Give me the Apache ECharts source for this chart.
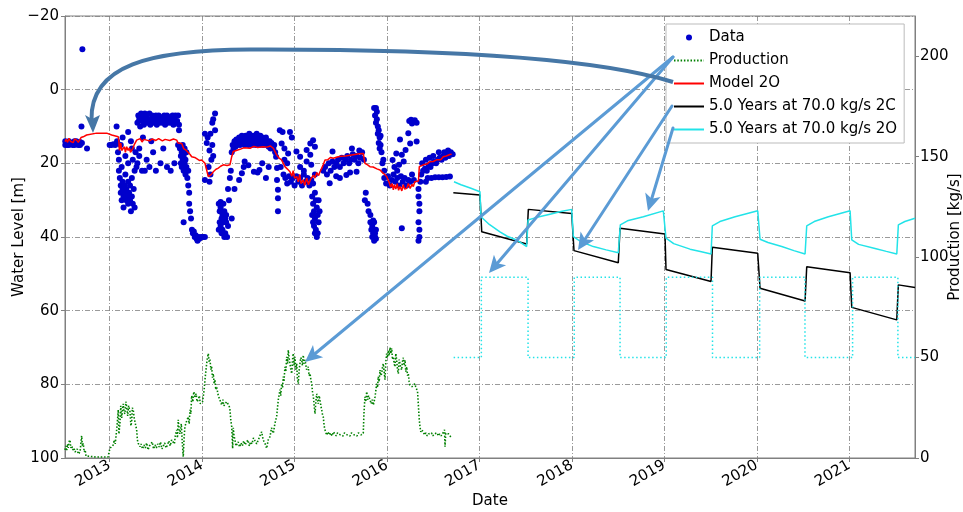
<!DOCTYPE html>
<html><head><meta charset="utf-8">
<script src="https://cdn.jsdelivr.net/npm/echarts@6/dist/echarts.min.js"></script>
<style>html,body{margin:0;padding:0;background:#fff}#c{width:963px;height:512px}</style>
</head><body><div id="c"></div>
<script>
// ---------- DATA (decimal year, value) ----------
const xTickYears = [2013, 2014, 2015, 2016, 2017, 2018, 2019, 2020, 2021];

// Observed water level [m] (blue dots)
const dataLevels = [
 [2012.52,15],[2012.54,15],[2012.56,15],[2012.58,14.5],[2012.60,15],[2012.62,15],[2012.64,14],[2012.66,15],[2012.68,15],[2012.70,14.5],
 [2012.52,14],[2012.56,14],[2012.62,14],[2012.68,14.2],[2012.705,-11],[2012.695,10],[2012.755,16],
 [2013.00,15],[2013.02,15],[2013.04,14.8],[2013.06,15],[2013.08,14],[2013.075,10],
 [2013.09,17],[2013.1,19],[2013.1,22],[2013.11,24],[2013.12,26],[2013.12,28],[2013.13,21],[2013.13,30],[2013.14,27],[2013.14,25],
 [2013.15,29],[2013.15,32],[2013.16,26],[2013.17,28],[2013.17,23],[2013.18,30],[2013.18,27],[2013.19,29],[2013.2,31],[2013.2,25],
 [2013.21,28],[2013.22,30],[2013.22,26],[2013.23,33],[2013.24,29],[2013.24,24],[2013.25,31],[2013.26,27],[2013.27,32],[2013.27,22],
 [2013.12,15],[2013.14,13],[2013.17,18],[2013.2,20],[2013.23,14],[2013.25,19],[2013.28,17],[2013.29,21],[2013.3,20],[2013.32,18],
 [2013.35,22],[2013.2,11.5],[2013.24,16],
 [2013.3,9],[2013.31,7],[2013.32,8],[2013.33,10],[2013.34,6.5],[2013.35,8.5],[2013.36,7.5],[2013.37,9.5],[2013.38,6.5],[2013.39,8],
 [2013.40,7],[2013.41,9],[2013.42,8],[2013.43,6.5],[2013.44,9.5],[2013.45,8],[2013.46,7],[2013.47,9],[2013.48,7.5],[2013.49,8.5],
 [2013.5,7],[2013.51,9.5],[2013.52,8],[2013.53,7],[2013.54,9],[2013.55,8],[2013.56,7.5],[2013.57,9],[2013.58,8],[2013.59,7],
 [2013.6,9.5],[2013.61,8],[2013.62,7],[2013.63,9],[2013.64,8],[2013.65,7.5],[2013.66,9],[2013.67,8],[2013.68,7],[2013.69,9.5],
 [2013.7,8],[2013.71,7],[2013.72,9],[2013.73,8.5],[2013.74,7],[2013.75,9.5],[2013.75,11],
 [2013.32,16],[2013.36,13],[2013.4,19],[2013.43,21],[2013.47,17],[2013.5,22],[2013.55,20],[2013.58,16],[2013.62,21],[2013.66,22],
 [2013.7,20],[2013.74,15],[2013.38,22],[2013.45,14],
 [2013.76,16],[2013.77,18],[2013.77,20],[2013.78,17],[2013.78,21],[2013.79,19],[2013.79,15],[2013.8,22],[2013.8,18],[2013.81,20],
 [2013.81,16],[2013.82,23],[2013.82,19],[2013.83,21],[2013.83,17],[2013.84,24],[2013.85,22],[2013.85,26],[2013.86,28],[2013.86,31],
 [2013.87,33],[2013.88,35],[2013.80,36],[2013.89,38],[2013.9,39],
 [2013.91,38.5],[2013.92,40],[2013.93,39.5],[2013.94,40.5],[2013.95,41],[2013.96,40],[2013.97,40.5],[2013.99,40],[2014.01,40],[2014.03,40],
 [2014.03,12],[2014.05,14.5],[2014.06,13],[2014.08,16.5],[2014.1,19],[2014.07,21],[2014.09,23],[2014.08,25],[2014.03,24.5],[2014.12,8],
 [2014.14,6.5],[2014.11,9],[2014.14,11],[2014.09,12],[2014.12,18],[2014.11,15],
 [2014.18,31],[2014.19,33],[2014.2,32],[2014.21,35],[2014.22,34],[2014.2,37],[2014.19,36],[2014.23,31],[2014.22,38],[2014.24,40],
 [2014.25,39],[2014.26,36],[2014.24,33],[2014.23,36],[2014.21,39],[2014.18,38],[2014.27,40],[2014.26,34],[2014.2,30.5],[2014.25,35],
 [2014.28,37],[2014.28,27],[2014.3,24],[2014.29,30],[2014.32,35],[2014.31,22],
 [2014.32,17],[2014.33,15],[2014.34,16],[2014.35,14],[2014.36,15.5],[2014.37,13.5],[2014.38,15],[2014.39,14],[2014.4,13],[2014.41,15],
 [2014.42,14],[2014.43,12.5],[2014.44,14.5],[2014.45,13],[2014.46,15],[2014.47,12.5],[2014.48,14],[2014.49,13],[2014.5,15],[2014.51,12],
 [2014.52,14],[2014.53,13],[2014.54,15],[2014.55,12.5],[2014.56,14],[2014.57,13],[2014.58,15],[2014.59,12],[2014.6,14],[2014.61,13],
 [2014.62,15],[2014.63,12.5],[2014.64,14],[2014.65,13],[2014.66,15],[2014.67,13.5],[2014.68,14.5],[2014.69,13],[2014.7,15],[2014.71,14],
 [2014.72,15.5],[2014.73,14],[2014.74,16],[2014.75,14.5],[2014.76,15],[2014.77,16],[2014.78,15],[2014.79,17],
 [2014.43,22.7],[2014.56,22.3],[2014.62,21.8],[2014.69,24],[2014.46,19.5],[2014.4,24.5],[2014.45,21],[2014.5,20.5],[2014.6,22.5],[2014.65,20],
 [2014.72,21],[2014.35,27],
 [2014.8,18.2],[2014.81,21.3],[2014.81,24.5],[2014.82,27.2],[2014.82,29.5],[2014.82,33],
 [2014.84,11],[2014.87,11.5],[2014.95,11.5],[2014.97,13],[2014.86,14.6],[2014.89,16],[2014.93,17.3],[2014.89,19],[2014.85,21],[2014.92,20],
 [2014.88,23],[2014.9,24],[2014.92,25.5],[2014.94,23.5],[2014.96,25],[2014.98,24],[2015.0,26],[2015.02,23.5],[2015.04,25],[2015.06,24],
 [2015.08,26],[2015.1,23],[2015.12,25],[2015.14,24],[2015.16,26],[2015.18,24.5],[2015.2,25.5],[2015.22,23],
 [2015.02,16.8],[2015.06,18.2],[2015.13,16.4],[2015.17,14.6],[2015.2,13.7],[2015.17,17.7],[2015.13,19.5],[2015.18,20.4],[2015.06,21],[2015.22,15.5],
 [2015.1,22],
 [2015.19,29],[2015.2,31],[2015.21,33],[2015.22,35],[2015.2,36],[2015.23,38],[2015.24,40],[2015.22,39],[2015.25,34],[2015.24,32],
 [2015.21,37],[2015.23,30],[2015.26,36],[2015.25,39],[2015.27,33],[2015.22,28],[2015.19,34],[2015.26,30],
 [2015.31,22],[2015.33,21],[2015.35,23],[2015.37,20],[2015.39,22],[2015.41,19.5],[2015.43,21],[2015.45,20],[2015.47,19],[2015.49,21],
 [2015.51,18.5],[2015.53,20],[2015.55,19],[2015.57,18],[2015.59,20],[2015.61,19],[2015.63,17.5],[2015.65,19],[2015.67,18],[2015.69,20],
 [2015.71,18.5],[2015.73,17],[2015.75,19],
 [2015.38,25.4],[2015.49,24],[2015.56,23.2],[2015.67,22.3],[2015.45,23.5],[2015.6,22.5],[2015.41,16.8],[2015.62,16],[2015.7,16.5],
 [2015.76,30],[2015.77,28],[2015.79,31],[2015.8,33],[2015.82,36],[2015.83,38],[2015.84,40],[2015.85,39],[2015.86,41],[2015.87,40],
 [2015.88,38],[2015.84,37],[2015.86,36],[2015.88,40.5],[2015.82,34],[2015.85,35.5],[2015.87,39],
 [2015.86,5],[2015.88,5],[2015.87,7],[2015.88,9],[2015.89,8],[2015.9,10],[2015.9,12],[2015.91,11],[2015.92,13],[2015.91,14.5],
 [2015.92,16],[2015.93,15],[2015.94,17],[2015.93,12.5],[2015.89,6],[2015.96,19],[2015.97,22],[2015.95,20],
 [2015.97,24],[2015.99,25.5],[2016.01,23.5],[2016.03,26],[2016.05,24.5],[2016.07,23],[2016.09,25],[2016.11,24],[2016.13,26],[2016.15,23.5],
 [2016.17,25],[2016.19,24],[2016.21,26],[2016.23,24.5],[2016.25,25],[2016.27,23],[2016.29,24.5],
 [2016.1,17.3],[2016.13,20.4],[2016.16,17.7],[2016.2,16.4],[2016.25,14.6],[2016.23,11.8],[2016.32,14.1],[2016.06,19.1],[2016.18,19.5],[2016.08,21],
 [2016.14,13.5],[2016.11,22],[2016.16,37.6],
 [2016.24,8.5],[2016.26,8.2],[2016.28,8.6],[2016.3,8.3],[2016.32,9],[2016.27,9.2],
 [2016.34,27],[2016.34,29],[2016.35,31],[2016.35,33],[2016.34,36],[2016.35,38],[2016.35,40],[2016.34,41],[2016.36,25],
 [2016.37,23],[2016.39,22],[2016.41,21.5],[2016.43,22],[2016.45,20.5],[2016.47,21],[2016.49,20],[2016.51,19.5],[2016.53,20],[2016.55,19],
 [2016.57,18.5],[2016.59,19],[2016.61,18],[2016.63,18.5],[2016.65,17.5],[2016.67,18],[2016.69,17],[2016.71,17.5],[2016.38,20],[2016.42,19],
 [2016.46,18.5],[2016.5,18],[2016.56,17],[2016.62,17],[2016.66,16.5],
 [2016.44,24],[2016.48,24],[2016.52,23.8],[2016.56,23.8],[2016.6,23.8],[2016.64,23.7],[2016.68,23.6],[2016.42,25]
];

// Historical production [kg/s] (green dotted, right axis)
const productionHist = [
 [2012.517,4],[2012.525,6],[2012.535,3.5],[2012.545,7],[2012.552,5],[2012.56,8],[2012.571,9],[2012.58,5],[2012.592,6],[2012.6,4],
 [2012.614,5],[2012.625,3],[2012.643,3],[2012.65,4.5],[2012.66,2],[2012.68,3],[2012.69,8],[2012.697,11],[2012.705,6],[2012.714,7.3],
 [2012.725,3],[2012.735,4],[2012.744,1],[2012.765,0.5],[2012.85,0.5],[2012.95,0.5],[2012.982,0.5],[2013.003,4.8],[2013.02,5.5],[2013.039,6.5],
 [2013.05,9],[2013.06,7],[2013.076,14],[2013.085,19],[2013.093,24],[2013.1,12],[2013.111,17],[2013.12,26],[2013.13,20],[2013.147,27],
 [2013.155,23],[2013.165,22],[2013.175,28],[2013.184,25.5],[2013.195,21],[2013.205,26],[2013.22,23],[2013.23,16],[2013.238,18],[2013.245,25],
 [2013.255,24],[2013.265,20],[2013.274,20],[2013.283,16],[2013.292,14],[2013.3,9],[2013.309,7.3],[2013.328,5.6],
 [2013.34,7],[2013.355,4.5],[2013.37,6.5],[2013.385,5],[2013.4,7.5],[2013.415,4],[2013.43,6],[2013.445,5.5],[2013.46,8],[2013.475,4.5],
 [2013.49,6.5],[2013.505,5],[2013.52,7],[2013.535,5.5],[2013.55,8],[2013.565,4.5],[2013.58,6],[2013.595,7.5],[2013.61,5],[2013.625,6.5],
 [2013.64,8.5],[2013.655,6],[2013.67,9],[2013.688,9],[2013.7,7],[2013.71,11],
 [2013.725,14],[2013.733,10],[2013.742,19],[2013.75,15],[2013.76,12],[2013.775,17],[2013.785,8],[2013.796,0.6],[2013.805,10],[2013.814,15.6],
 [2013.83,18],[2013.85,20.5],[2013.86,17],[2013.869,24],[2013.878,22],[2013.887,31],[2013.9,28],[2013.91,33],[2013.923,30.5],[2013.935,32],
 [2013.945,28],[2013.958,29],[2013.97,31],[2013.98,27],[2013.995,27],[2014.005,28],[2014.012,30.5],[2014.022,34],[2014.031,39],[2014.04,43],
 [2014.049,47],[2014.058,50],[2014.067,52],[2014.075,48],[2014.085,49],[2014.095,44],[2014.103,45.4],[2014.112,40],[2014.121,42],[2014.13,37],
 [2014.139,39],[2014.148,34],[2014.157,35.5],[2014.175,31],[2014.193,30.5],[2014.2,28],[2014.211,26.4],[2014.225,29],[2014.235,26],[2014.247,25.5],
 [2014.265,28],[2014.283,27.2],[2014.292,26],[2014.301,24],[2014.31,19],[2014.32,15.6],[2014.33,4.8],[2014.337,15],[2014.345,11],[2014.355,9],
 [2014.366,6],[2014.377,6.5],
 [2014.39,8],[2014.405,5.5],[2014.42,7.5],[2014.435,6],[2014.45,8.5],[2014.465,6.5],[2014.48,7],[2014.495,9],[2014.51,6],[2014.525,8],
 [2014.54,7],[2014.555,10],[2014.572,10.6],[2014.59,7],[2014.607,7.6],[2014.625,11],[2014.644,13],[2014.66,9],[2014.68,7.3],[2014.698,4.8],
 [2014.715,9],[2014.734,10.6],[2014.75,15],[2014.77,12.3],
 [2014.788,17.3],[2014.806,20.6],[2014.815,25],[2014.824,29],[2014.842,34],[2014.85,31],[2014.86,37],[2014.87,35],[2014.878,40.5],[2014.885,38],
 [2014.896,45.4],[2014.905,43],[2014.915,50.4],[2014.925,47],[2014.932,53.7],[2014.94,50],[2014.95,47],[2014.96,44],[2014.969,42],[2014.978,49],
 [2014.986,52],[2014.995,46],[2015.004,50.4],[2015.013,44],[2015.023,47],[2015.03,40],[2015.04,37],[2015.05,44],[2015.058,47],[2015.067,50],
 [2015.077,48.8],[2015.085,46],[2015.094,51.2],[2015.103,47],[2015.113,48.8],[2015.13,44],[2015.148,45.4],[2015.157,41],[2015.167,42],[2015.176,39],
 [2015.185,37],[2015.194,33],[2015.203,30.5],[2015.212,26],[2015.221,22],[2015.23,28],[2015.239,32],[2015.248,29],[2015.256,27],[2015.265,31],
 [2015.275,29],[2015.284,26],[2015.293,24],[2015.3,22],[2015.31,20.6],[2015.32,16],[2015.329,14],[2015.347,11.4],
 [2015.36,13],[2015.375,11.5],[2015.39,12.5],[2015.405,11],[2015.42,13],[2015.435,12],[2015.45,11],[2015.465,12.5],[2015.48,13],[2015.495,11.5],
 [2015.51,12],[2015.525,11],[2015.54,12.5],[2015.555,13],[2015.57,11.5],[2015.585,12],[2015.6,11],[2015.615,12.5],[2015.63,13],[2015.645,11.5],
 [2015.66,12],[2015.675,11],[2015.69,12.5],[2015.705,12],[2015.72,11.5],[2015.743,12.3],
 [2015.75,22],[2015.761,30.5],[2015.77,28],[2015.78,33],[2015.79,29],[2015.8,31],[2015.815,30.5],[2015.83,27],[2015.84,29],[2015.851,26.4],
 [2015.86,28],[2015.87,30.5],[2015.88,34],[2015.888,37],[2015.897,35],[2015.905,40.5],[2015.915,38],[2015.924,43.8],[2015.933,41],[2015.942,42],
 [2015.95,45],[2015.959,47],[2015.968,43],[2015.978,39],[2015.987,48],[2015.996,52],[2016.005,50],[2016.014,53.7],[2016.023,51],[2016.032,55],
 [2016.041,52],[2016.05,54.6],[2016.059,49],[2016.068,50.4],[2016.077,47],[2016.086,45.4],[2016.095,52],[2016.104,48.8],[2016.113,44],[2016.122,42],
 [2016.131,49],[2016.14,47],[2016.149,45],[2016.158,43.8],[2016.167,48],[2016.176,50],[2016.185,46],[2016.194,48.8],[2016.203,43],[2016.213,45.4],
 [2016.222,41],[2016.23,42],[2016.239,38],[2016.248,36.3],[2016.26,37],[2016.27,35.5],[2016.284,36.3],[2016.3,37],[2016.31,35.5],[2016.321,36.3],
 [2016.33,33],[2016.338,27],[2016.347,20],[2016.356,15.6],[2016.365,13],[2016.375,14],[2016.392,13],
 [2016.405,11.5],[2016.42,12.5],[2016.435,11],[2016.45,12],[2016.465,11.5],[2016.48,12.5],[2016.495,11],[2016.51,12],[2016.525,11.5],[2016.54,12.5],
 [2016.555,11],[2016.57,12],[2016.585,11],[2016.6,12],[2016.615,11.5],[2016.622,14],[2016.627,5.6],[2016.635,12.3],[2016.65,11.5],[2016.665,12],
 [2016.681,11],[2016.69,10.5],[2016.699,9.8]
];

// Model 2O water level [m] (red)
const model2O = [
 [2012.517,14.1],[2012.53,13.5],[2012.545,14.3],[2012.56,13.2],[2012.575,14],[2012.59,13.6],[2012.605,14.4],[2012.62,13.4],[2012.643,13.7],[2012.66,14.3],
 [2012.679,14.1],[2012.69,13],[2012.714,12.8],[2012.751,12.3],[2012.859,11.8],[2012.968,11.8],[2013.022,12.3],[2013.093,12.8],[2013.1,14],[2013.105,16.5],
 [2013.111,15.9],[2013.12,14.5],[2013.13,16.5],[2013.147,16.8],[2013.16,15.5],[2013.17,17],[2013.184,15.5],[2013.2,16.5],[2013.215,15.8],[2013.225,17],
 [2013.238,16.8],[2013.25,16],[2013.265,15],[2013.274,15.5],[2013.292,13.7],[2013.31,14],[2013.33,13.3],[2013.35,14.2],[2013.37,13.5],[2013.4,13.7],
 [2013.43,13.9],[2013.46,13.4],[2013.5,13.8],[2013.53,13.3],[2013.57,13.9],[2013.6,13.5],[2013.617,13.5],[2013.65,13.8],[2013.69,13.4],[2013.725,13.7],
 [2013.74,14.5],[2013.76,15],[2013.78,14.6],[2013.8,16],[2013.814,15.5],[2013.83,16.5],[2013.85,16.8],[2013.87,17.6],[2013.887,18.2],[2013.92,18.4],
 [2013.941,18.6],[2013.97,19.2],[2013.995,19.1],[2014.031,20],[2014.049,21.8],[2014.067,23.6],[2014.085,24],[2014.1,23],[2014.121,22.3],[2014.15,21.6],
 [2014.175,21.3],[2014.2,20.8],[2014.229,20.4],[2014.27,20.6],[2014.301,20.4],[2014.32,18.2],[2014.337,16.8],[2014.37,16.5],[2014.409,16.2],[2014.45,15.8],
 [2014.518,15.9],[2014.56,15.4],[2014.6,15.7],[2014.661,15.5],[2014.7,15.6],[2014.74,15.3],[2014.77,15.9],[2014.806,17.7],[2014.83,18.5],[2014.86,19.1],
 [2014.896,20.9],[2014.92,21.5],[2014.95,22.3],[2014.97,23.5],[2014.985,22],[2015.0,24],[2015.023,23.6],[2015.04,25],[2015.055,23],[2015.07,25.5],
 [2015.094,24.5],[2015.11,26],[2015.13,24],[2015.15,25.8],[2015.17,24.5],[2015.185,25],[2015.203,23.2],[2015.22,24],[2015.24,22.5],[2015.26,23.3],
 [2015.275,22.3],[2015.29,21.5],[2015.31,20.4],[2015.329,19.1],[2015.36,19],[2015.39,18.4],[2015.419,18.6],[2015.46,18.3],[2015.5,18.1],[2015.55,18],
 [2015.6,17.8],[2015.65,17.6],[2015.7,17.4],[2015.743,17.3],[2015.761,20],[2015.79,20.4],[2015.815,20.9],[2015.85,21],[2015.89,21.5],[2015.924,21.8],
 [2015.95,22.5],[2015.975,23],[2015.996,23.6],[2016.02,25],[2016.04,26.5],[2016.055,25.5],[2016.068,27.2],[2016.08,25.8],[2016.095,27],[2016.11,25.5],
 [2016.125,27.3],[2016.14,26.3],[2016.16,27.5],[2016.175,25.8],[2016.19,27],[2016.213,26.8],[2016.23,25.5],[2016.25,26.8],[2016.27,25.7],[2016.284,26.3],
 [2016.3,25],[2016.321,25],[2016.34,24.8],[2016.349,20.9],[2016.392,20.4],[2016.43,20.2],[2016.46,19.6],[2016.5,19.5],[2016.54,19],[2016.56,18.5],
 [2016.58,19],[2016.608,18.2],[2016.64,18],[2016.66,18.3],[2016.68,17.6],[2016.699,17.5]
];

// 5.0 years at 70 kg/s, scenario 2C (black)
const scenario2C = [
 [2016.717,28.0],[2017.005,28.6],[2017.024,38.6],[2017.51,41.9],[2017.528,32.5],[2017.997,33.6],[2018.022,43.7],[2018.501,47.0],
 [2018.52,37.6],[2019.006,39.2],[2019.017,48.8],[2019.504,52.1],[2019.518,42.8],[2020.009,44.4],[2020.034,53.9],[2020.521,57.4],
 [2020.539,48.1],[2021.008,49.7],[2021.026,59.1],[2021.513,62.5],[2021.53,53.0],[2021.71,53.7]
];

// 5.0 years at 70 kg/s, scenario 2O (cyan)
const scenario2O = [
 [2016.724,25.0],[2016.8,25.8],[2016.9,26.7],[2017.005,27.7],[2017.016,34.5],[2017.106,36.6],[2017.221,38.6],[2017.3,39.8],[2017.402,40.8],[2017.51,42.6],
 [2017.525,35.4],[2017.6,34.8],[2017.763,33.8],[2017.88,33.1],[2017.997,32.5],
 [2018.015,39.9],[2018.1,41.3],[2018.231,42.6],[2018.37,43.5],[2018.501,44.3],
 [2018.523,36.7],[2018.6,35.6],[2018.772,34.5],[2018.988,32.9],
 [2019.017,40.3],[2019.1,41.8],[2019.277,43.3],[2019.4,44.0],[2019.504,44.6],
 [2019.518,37.0],[2019.6,35.8],[2019.764,34.5],[2020.009,32.9],
 [2020.034,40.6],[2020.12,41.5],[2020.269,42.6],[2020.4,43.7],[2020.521,44.6],
 [2020.539,37.0],[2020.62,35.8],[2020.773,34.5],[2021.008,32.9],
 [2021.026,40.8],[2021.1,42.0],[2021.278,43.1],[2021.4,43.9],[2021.513,44.6],
 [2021.53,36.7],[2021.6,35.8],[2021.71,34.9]
];

// Scenario production [kg/s] (cyan dotted, right axis)
const productionFuture = [
 [2016.72,50],[2017.02,50],[2017.02,90],[2017.525,90],[2017.525,50],[2018.025,50],[2018.025,90],[2018.52,90],[2018.52,50],[2019.02,50],
 [2019.02,90],[2019.52,90],[2019.52,50],[2020.03,50],[2020.03,90],[2020.52,90],[2020.52,50],[2021.035,50],[2021.035,90],[2021.525,90],
 [2021.525,50],[2021.71,50]
];

// ---------- CHART ----------
const FONT = 'DejaVu Sans';
const chart = echarts.init(document.getElementById('c'), null, {renderer: 'canvas'});
const gridLine = {show: true, lineStyle: {color: '#808080', width: 0.8, type: [5, 2, 1, 2]}};
const minus = v => (v < 0 ? '\u2212' + Math.abs(v) : String(v));

function arrowShapes(ax, ay, tx, ty, color, width, len, half) {
  const dx = tx - ax, dy = ty - ay, d = Math.hypot(dx, dy);
  const ux = dx / d, uy = dy / d, nx = -uy, ny = ux;
  const bx = tx - ux * len, by = ty - uy * len;
  return [
    {type: 'line', z: 100, shape: {x1: ax, y1: ay, x2: tx - ux * len * 0.6, y2: ty - uy * len * 0.6},
     style: {stroke: color, lineWidth: width, lineCap: 'round'}},
    {type: 'polygon', z: 100, shape: {points: [[tx, ty], [bx + nx * half, by + ny * half],
      [tx - ux * len * 0.75, ty - uy * len * 0.75], [bx - nx * half, by - ny * half]]}, style: {fill: color}}
  ];
}

const light = '#5b9bd5', dark = '#4677a6';
const graphics = [].concat(
  arrowShapes(673, 57, 305, 362, light, 3, 17, 8),
  arrowShapes(673, 57, 489, 273, light, 3, 17, 8),
  arrowShapes(672, 106, 578, 250, light, 3, 17, 8),
  arrowShapes(673, 128, 648, 211, light, 3, 17, 8),
  [
    {type: 'bezierCurve', z: 100, shape: {x1: 673, y1: 82, cpx1: 590, cpy1: 56, cpx2: 420, cpy2: 49, x2: 250, y2: 49.5},
     style: {stroke: dark, lineWidth: 4, fill: null}},
    {type: 'bezierCurve', z: 100, shape: {x1: 250, y1: 49.5, cpx1: 150, cpy1: 50, cpx2: 90, cpy2: 65, x2: 91.5, y2: 120},
     style: {stroke: dark, lineWidth: 4, fill: null}},
    {type: 'polygon', z: 100, shape: {points: [[93, 133], [85, 115], [92, 119], [100, 115]]}, style: {fill: dark}}
  ]
);

const hideSym = {opacity: 0};
const option = {
  animation: false,
  backgroundColor: '#fff',
  textStyle: {fontFamily: FONT},
  grid: {left: 65, right: 48, top: 16, bottom: 54, show: true, borderColor: '#808080', borderWidth: 1,
         containLabel: false, outerBoundsMode: 'none'},
  legend: {
    orient: 'vertical', left: 666, top: 24, padding: [6, 7, 6, 7], itemGap: 8, itemWidth: 30, itemHeight: 6,
    backgroundColor: '#fff', borderColor: '#bbbbbb', borderWidth: 1, z: 50,
    textStyle: {fontSize: 15, color: '#000', fontFamily: FONT},
    data: [
      {name: 'Data'},
      {name: 'Production', itemStyle: hideSym},
      {name: 'Model 2O', itemStyle: hideSym},
      {name: '5.0 Years at 70.0 kg/s 2C', itemStyle: hideSym},
      {name: '5.0 Years at 70.0 kg/s 2O', itemStyle: hideSym}
    ]
  },
  xAxis: {
    type: 'value', min: 2012.517, max: 2021.71,
    name: 'Date', nameLocation: 'middle', nameGap: 36, nameMoveOverlap: false,
    nameTextStyle: {fontSize: 15, color: '#000', fontFamily: FONT},
    axisLine: {show: true, onZero: false, lineStyle: {color: '#808080'}},
    axisTick: {show: true, customValues: xTickYears, length: 4, lineStyle: {color: '#808080'}},
    axisLabel: {customValues: xTickYears, rotate: 30, fontSize: 15, color: '#000', margin: 6, fontFamily: FONT,
      formatter: v => String(Math.round(v))},
    splitLine: gridLine
  },
  yAxis: [
    {type: 'value', position: 'left', inverse: true, min: -20, max: 100, interval: 20,
     name: 'Water Level [m]', nameLocation: 'middle', nameGap: 38, nameRotate: 90, nameMoveOverlap: false,
     nameTextStyle: {fontSize: 15, color: '#000', fontFamily: FONT},
     axisLine: {show: true, lineStyle: {color: '#808080'}},
     axisTick: {show: true, length: 4, lineStyle: {color: '#808080'}},
     axisLabel: {fontSize: 15, color: '#000', margin: 6, formatter: minus, fontFamily: FONT},
     splitLine: gridLine},
    {type: 'value', position: 'right', min: 0, max: 220, interval: 50,
     name: 'Production [kg/s]', nameLocation: 'middle', nameGap: 33, nameRotate: 90, nameMoveOverlap: false,
     nameTextStyle: {fontSize: 15, color: '#000', fontFamily: FONT},
     axisLine: {show: true, lineStyle: {color: '#808080'}},
     axisTick: {show: true, length: 4, lineStyle: {color: '#808080'}},
     axisLabel: {fontSize: 15, color: '#000', margin: 5, showMaxLabel: false, fontFamily: FONT},
     splitLine: {show: false}}
  ],
  series: [
    {name: 'Data', type: 'scatter', yAxisIndex: 0, data: dataLevels, symbol: 'circle', symbolSize: 6,
     itemStyle: {color: '#0000cc', opacity: 1}, z: 2},
    {name: 'Production', type: 'line', yAxisIndex: 1, data: productionHist, symbol: 'none',
     lineStyle: {color: '#008000', width: 1.6, type: [1.5, 1.8]}, itemStyle: {color: '#008000'}, z: 3},
    {name: 'Model 2O', type: 'line', yAxisIndex: 0, data: model2O, symbol: 'none',
     lineStyle: {color: '#ff0000', width: 1.5}, itemStyle: {color: '#ff0000'}, z: 4},
    {name: '5.0 Years at 70.0 kg/s 2C', type: 'line', yAxisIndex: 0, data: scenario2C, symbol: 'none',
     lineStyle: {color: '#000000', width: 1.5}, itemStyle: {color: '#000000'}, z: 4},
    {name: '5.0 Years at 70.0 kg/s 2O', type: 'line', yAxisIndex: 0, data: scenario2O, symbol: 'none',
     lineStyle: {color: '#22e3e8', width: 1.5}, itemStyle: {color: '#22e3e8'}, z: 4},
    {name: 'Scenario Production', type: 'line', yAxisIndex: 1, data: productionFuture, symbol: 'none',
     lineStyle: {color: '#22e3e8', width: 1.5, type: [1.5, 2.5]}, itemStyle: {color: '#22e3e8'}, z: 4}
  ],
  graphic: graphics
};
chart.setOption(option);
</script>
</body></html>
